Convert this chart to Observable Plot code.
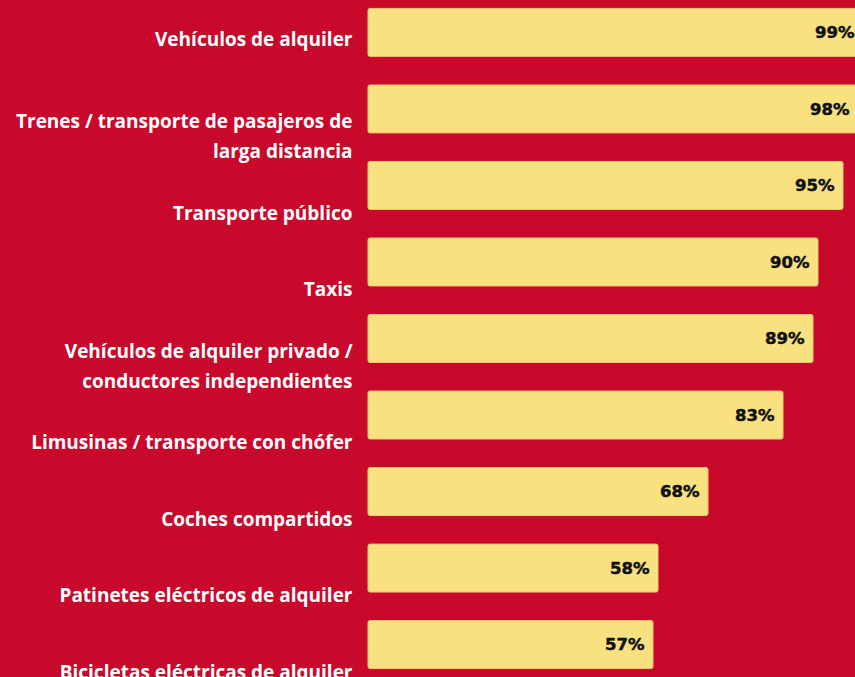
<!DOCTYPE html>
<html>
<head>
<meta charset="utf-8">
<script src="https://cdn.jsdelivr.net/npm/d3@7"></script>
<script src="https://cdn.jsdelivr.net/npm/@observablehq/plot@0.6"></script>
<style>
  html, body { margin: 0; padding: 0; background: #c8092b; overflow: hidden; }
  #chart svg { display: block; overflow: hidden; }
</style>
</head>
<body>
<div id="chart"></div>
<script>
const categories = [
  "Vehículos de alquiler",
  "Trenes / transporte de pasajeros de\nlarga distancia",
  "Transporte público",
  "Taxis",
  "Vehículos de alquiler privado /\nconductores independientes",
  "Limusinas / transporte con chófer",
  "Coches compartidos",
  "Patinetes eléctricos de alquiler",
  "Bicicletas eléctricas de alquiler"
];
const values = [99, 98, 95, 90, 89, 83, 68, 58, 57];

const data = categories.map((c, i) => ({ category: c, value: values[i], first: i === 0 }));

const chart = Plot.plot({
  width: 855,
  height: 677,
  marginLeft: 368,
  marginRight: -13,
  marginTop: 0,
  marginBottom: 0,
  style: { background: "#c8092b", overflow: "hidden" },
  x: { domain: [0, 100], axis: null },
  y: { domain: categories, axis: null, paddingInner: 0.373, paddingOuter: 0.11, round: false },
  marks: [
    Plot.barX(data, {
      x: "value", y: "category",
      fill: "#f9e180", stroke: "#e9cb6c", strokeWidth: 1, rx: 2
    }),
    Plot.text(data, {
      x: "value", y: "category", text: d => d.value + "%",
      textAnchor: "end", dx: -9,
      fill: "#111", stroke: "#111", strokeWidth: 0.5,
      fontFamily: "DejaVu Sans", fontWeight: 700, fontSize: 16.5
    }),
    Plot.text(data.filter(d => d.first), {
      x: 0, y: "category", text: "category",
      textAnchor: "end", dx: -16, dy: 3, lineHeight: 1.6,
      fill: "white", fontFamily: "Open Sans", fontWeight: 700, fontSize: 19
    }),
    Plot.text(data.filter(d => !d.first), {
      x: 0, y: "category", text: "category",
      textAnchor: "end", dx: -16, dy: 24, lineHeight: 1.6,
      fill: "white", fontFamily: "Open Sans", fontWeight: 700, fontSize: 19
    })
  ]
});
document.getElementById("chart").appendChild(chart);
</script>
</body>
</html>
